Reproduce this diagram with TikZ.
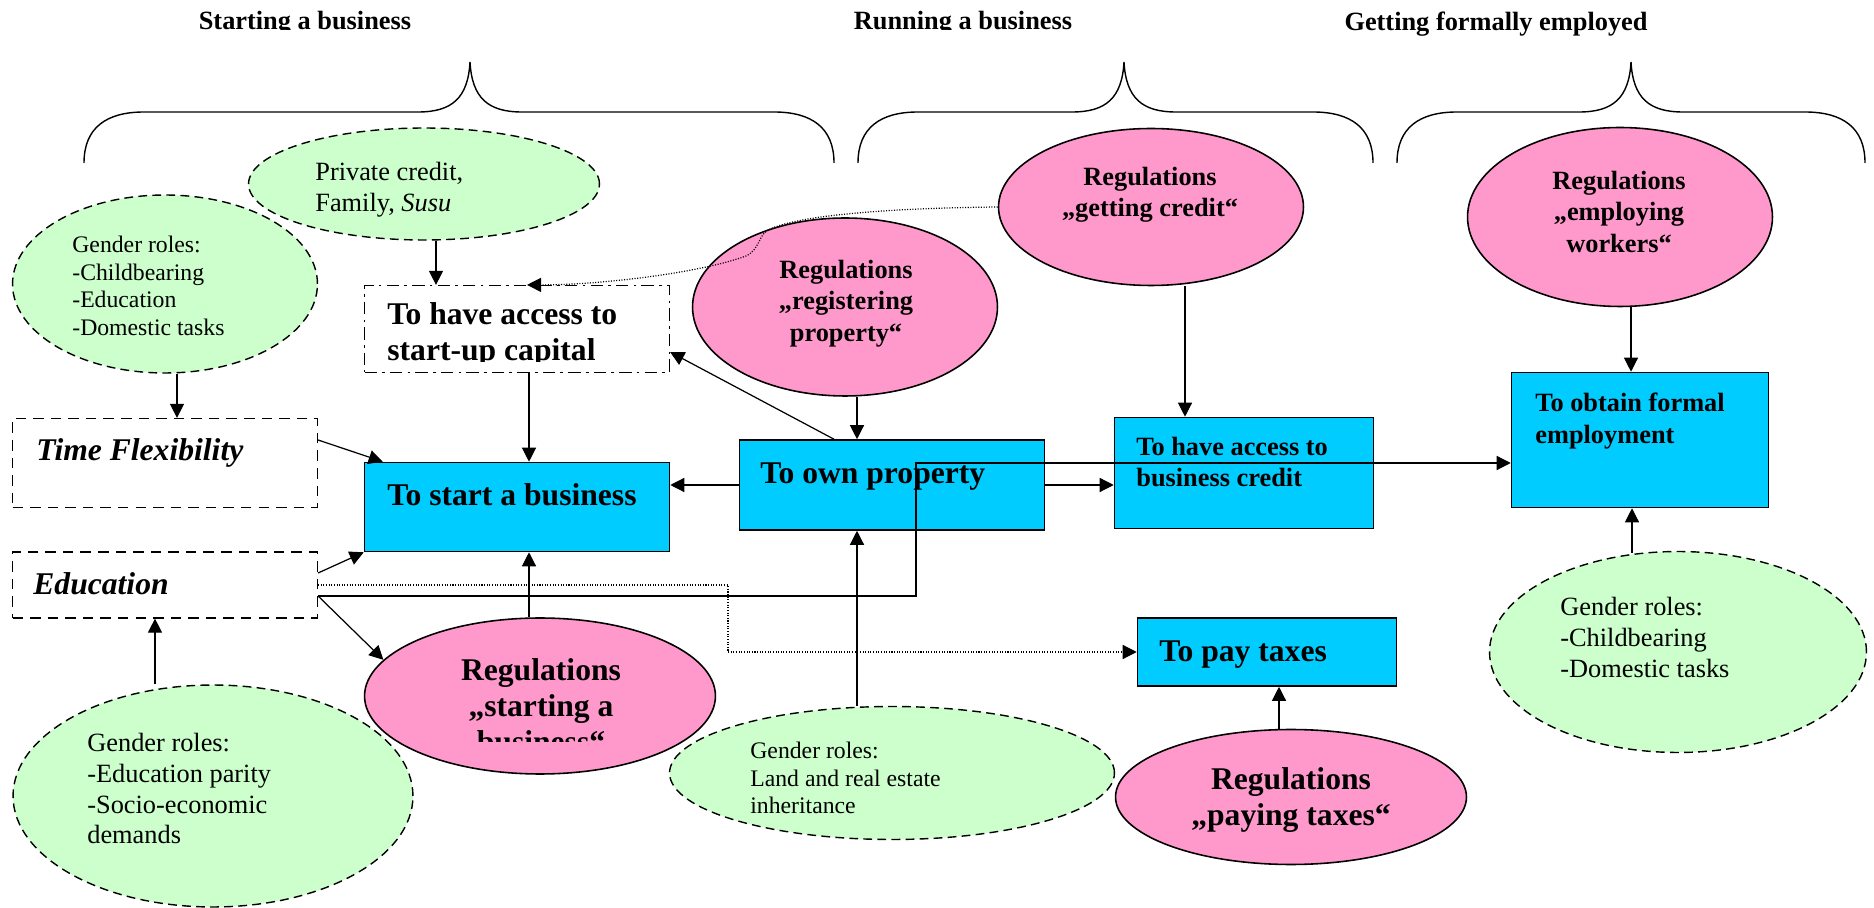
\documentclass[tikz,border=0pt]{standalone}
\usepackage{fontspec}
\setmainfont{Liberation Serif}
\usetikzlibrary{calc,shapes.geometric,arrows.meta}
\definecolor{boxblue}{RGB}{0,204,255}
\definecolor{regpink}{RGB}{255,153,204}
\definecolor{rolegreen}{RGB}{204,255,204}
\tikzset{
  goalbox/.style={draw,fill=boxblue,line width=0.9pt,inner sep=0pt},
  factorbox/.style={draw,dash pattern=on 6pt off 4pt,line width=0.7pt,inner sep=0pt},
  regell/.style={ellipse,draw,fill=regpink,line width=0.9pt,inner sep=0pt},
  roleell/.style={ellipse,draw,fill=rolegreen,dash pattern=on 5pt off 3pt,line width=0.8pt,inner sep=0pt},
  arr/.style={-{Triangle[length=8pt,width=8pt]},line width=0.7pt},
  dots/.style={dash pattern=on 0.6pt off 0.9pt},
  ttl/.style={font=\fontsize{15}{17.8}\selectfont\bfseries,inner sep=0pt,anchor=base},
  rolet/.style={font=\fontsize{15}{17.5}\selectfont,align=left,inner sep=0pt,anchor=north west},
  rolets/.style={rolet,font=\fontsize{13.5}{15.6}\selectfont},
  goalt/.style={font=\fontsize{18}{20.5}\selectfont\bfseries,align=left,inner sep=0pt,anchor=north west},
  goalts/.style={goalt,font=\fontsize{15}{17.8}\selectfont\bfseries},
  factt/.style={font=\fontsize{18}{20.5}\selectfont\bfseries\itshape,inner sep=0pt,anchor=north west},
  regt/.style={font=\fontsize{15}{17.8}\selectfont\bfseries,align=center,inner sep=0pt,anchor=north},
  regtl/.style={regt,font=\fontsize{18}{20.5}\selectfont\bfseries}
}

\begin{document}
\begin{tikzpicture}[x=0.02cm,y=-0.02cm]
    \useasboundingbox (0,0) rectangle (1874,908);

    % headings and braces
    \begin{scope}
      \clip (0,0) rectangle (1300,29.5);
      \node[ttl] (t1) at (305,29.5) {Starting a business};
      \node[ttl] (t2) at (963,29.5) {Running a business};
    \end{scope}
    \node[ttl] (t3) at (1496,31) {Getting formally employed};

   	\foreach \l/\c/\r in {84/470/834,858/1124/1373,1397/1631/1865}{
   		\draw[line width=0.8pt] (\l,163) .. controls (\l,128) and (\l+22,112) .. (\l+60,112)
   		  -- (\c-52,112) .. controls (\c-18,112) and (\c-2,98) .. (\c,62)
   		  .. controls (\c+2,98) and (\c+18,112) .. (\c+52,112)
   		  -- (\r-60,112) .. controls (\r-22,112) and (\r,128) .. (\r,163);
   	}

    % gender roles
    \node[roleell,minimum width=7.02cm,minimum height=2.24cm] (pc) at (424,184) {};
    \node[roleell,minimum width=6.1cm,minimum height=3.56cm] (g1) at (165,284) {};
    \node[roleell,minimum width=8cm,minimum height=4.44cm] (g2) at (213,796) {};
    \node[roleell,minimum width=8.9cm,minimum height=2.66cm] (g3) at (892,773) {};
    \node[roleell,minimum width=7.54cm,minimum height=4.02cm] (g4) at (1678,652) {};
    \node[rolet] (pc-t) at (315,162) {Private credit,\\Family, \textit{Susu}};
    \node[rolets] (g1-t) at (72,236) {Gender roles:\\-Childbearing\\-Education\\-Domestic tasks};
    \node[rolet] (g2-t) at (87,733) {Gender roles:\\-Education parity\\-Socio-economic\\demands};
    \node[rolets] (g3-t) at (750,742) {Gender roles:\\Land and real estate\\inheritance};
    \node[rolet] (g4-t) at (1560,597) {Gender roles:\\-Childbearing\\-Domestic tasks};

    % regulations
    \node[regell,minimum width=6.1cm,minimum height=3.56cm] (rp) at (845,307) {};
    \node[regell,minimum width=6.1cm,minimum height=3.14cm] (rc) at (1151,207) {};
    \node[regell,minimum width=6.1cm,minimum height=3.58cm] (rw) at (1620,217) {};
    \node[regell,minimum width=7.02cm,minimum height=3.12cm] (rs) at (540,696) {};
    \node[regell,minimum width=7.02cm,minimum height=2.7cm] (rt) at (1291,797) {};
    \node[regt] (rp-t) at (846,260) {Regulations\\„registering\\property“};
    \node[regt] (rc-t) at (1150,167) {Regulations\\„getting credit“};
    \node[regt] (rw-t) at (1619,171) {Regulations\\„employing\\workers“};
    \begin{scope}
      \clip (365,600) rectangle (716,742);
      \node[regtl] (rs-t) at (541,658) {Regulations\\„starting a\\business“};
    \end{scope}
    \node[regtl] (rt-t) at (1291,767) {Regulations\\„paying taxes“};

    % goals and factors
    \node[factorbox,dash pattern=on 7pt off 3pt on 1.5pt off 3pt,minimum width=6.1cm,minimum height=1.74cm] (cap) at (517,329) {};
    \node[factorbox,minimum width=6.1cm,minimum height=1.78cm] (tf) at (165,463) {};
    \node[factorbox,minimum width=6.1cm,minimum height=1.32cm] (ed) at (165,585) {};
    \node[goalbox,minimum width=6.1cm,minimum height=1.78cm] (sb) at (517,507) {};
    \node[goalbox,minimum width=6.1cm,minimum height=1.8cm] (op) at (892,485) {};
    \node[goalbox,minimum width=5.18cm,minimum height=2.22cm] (bc) at (1244,473) {};
    \node[goalbox,minimum width=5.14cm,minimum height=2.7cm] (fe) at (1640,440) {};
    \node[goalbox,minimum width=5.18cm,minimum height=1.36cm] (pt) at (1267,652) {};
    \begin{scope}
      \clip (366,287) rectangle (668,362);
      \node[goalt] (cap-t) at (387,302) {To have access to\\start-up capital};
    \end{scope}
    \node[factt] (tf-t) at (36,438) {Time Flexibility};
    \node[factt] (ed-t) at (33,572) {Education};
    \node[goalt] (sb-t) at (387,483) {To start a business};
    \node[goalt] (op-t) at (760,462) {To own property};
    \node[goalts] (bc-t) at (1136,437) {To have access to\\business credit};
    \node[goalts] (fe-t) at (1535,393) {To obtain formal\\employment};
    \node[goalt] (pt-t) at (1159,640) {To pay taxes};

    % connectors
    \coordinate (kink) at (916,463);
    \coordinate (kink2) at (728,652);
    \draw[arr] ($(pc.south)+(12,0)$) -- ($(cap.north)+(-81,0)$);
    \draw[arr,dots] (rc.west) .. controls (900,208) and (800,214) .. (768,230)
      .. controls (758,236) and (760,249) .. (746,256)
      .. controls (700,273) and (600,285) .. ($(cap.north)+(10,0)$);
    \draw[arr] ($(cap.south)+(12,0)$) -- ($(sb.north)+(12,0)$);
    \draw[arr] ($(g1.south)+(12,0)$) -- ($(tf.north)+(12,0)$);
    \draw[arr] ($(tf.east)+(0,-23)$) -- ($(sb.north west)+(19,0)$);
    \draw[arr] ($(ed.east)+(0,-12)$) -- (sb.south west);
    \draw[arr] ($(ed.east)+(0,11)$) -- (rs.167);
    \draw[arr] ($(ed.east)+(0,11)$) -| (kink) -- (kink -| fe.west);
    \draw[arr,dots] (ed.east) -| (kink2) -- (kink2 -| pt.west);
    \draw[arr] ($(rs.north)+(-11,0)$) -- ($(sb.south)+(12,0)$);
    \draw[arr] (op.west) -- (op.west -| sb.east);
    \draw[arr] ($(op.north)+(-58,0)$) -- ($(cap.east)+(0,23)$);
    \draw[arr] ($(rp.south)+(12,0)$) -- ($(op.north)+(-35,0)$);
    \draw[arr] (op.east) -- (op.east -| bc.west);
    \draw[arr] ($(rc.south)+(34,0)$) -- ($(bc.north)+(-59,0)$);
    \draw[arr] ($(rw.south)+(11,0)$) -- ($(fe.north)+(-9,0)$);
    \draw[arr] ($(g4.north)+(-46,2)$) -- ($(fe.south)+(-8,0)$);
    \draw[arr] ($(rt.north)+(-12,0)$) -- ($(pt.south)+(12,0)$);
    \draw[arr] ($(g3.north)+(-35,0)$) -- ($(op.south)+(-35,0)$);
    \draw[arr] ($(g2.north)+(-58,0)$) -- ($(ed.south)+(-10,0)$);
\end{tikzpicture}
\end{document}
